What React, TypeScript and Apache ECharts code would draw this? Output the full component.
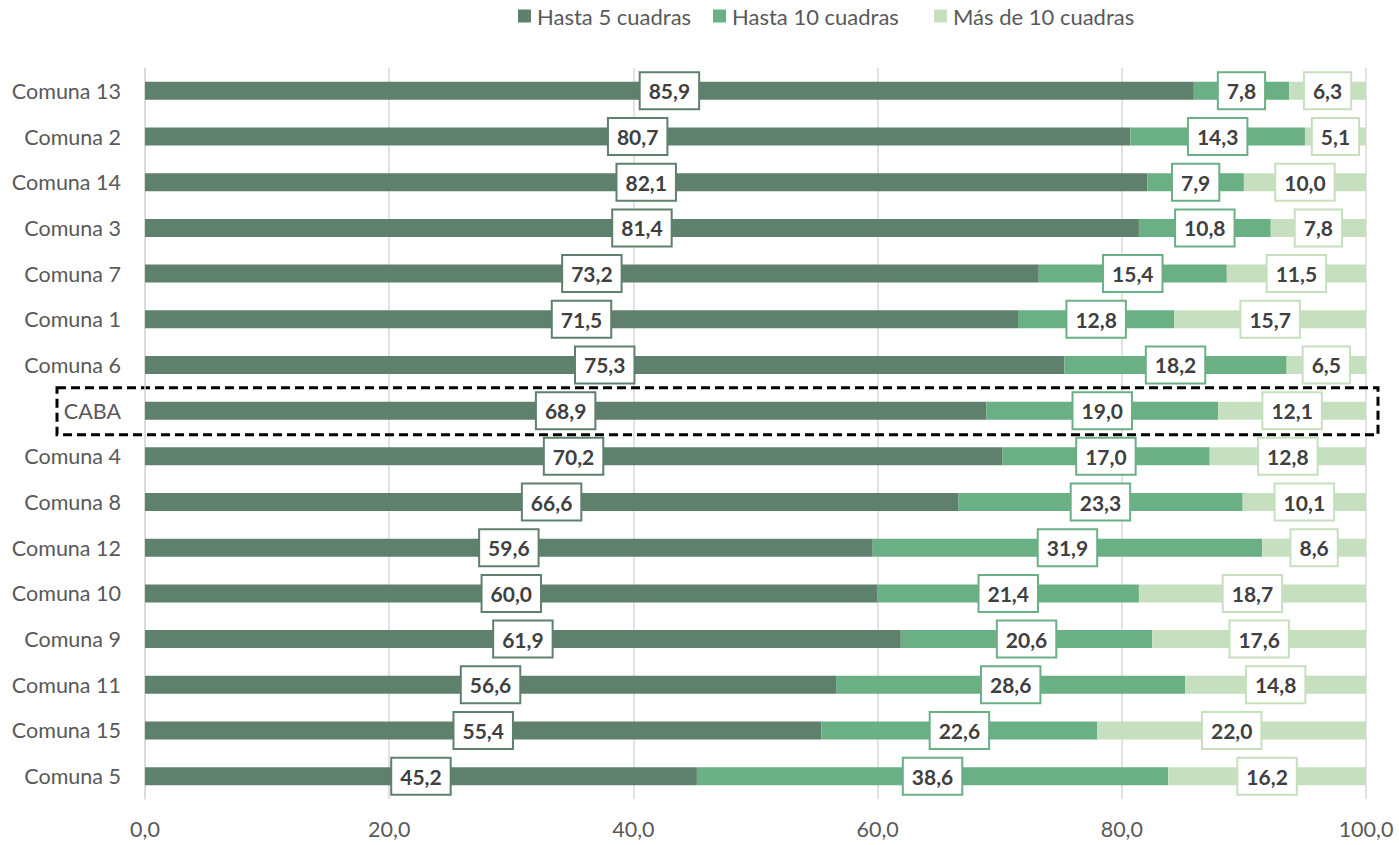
import React, { useEffect, useRef } from "react";
import * as echarts from "echarts";

const categories = [
  "Comuna 13", "Comuna 2", "Comuna 14", "Comuna 3", "Comuna 7", "Comuna 1", "Comuna 6", "CABA",
  "Comuna 4", "Comuna 8", "Comuna 12", "Comuna 10", "Comuna 9", "Comuna 11", "Comuna 15", "Comuna 5",
];
const hasta5 = [85.9, 80.7, 82.1, 81.4, 73.2, 71.5, 75.3, 68.9, 70.2, 66.6, 59.6, 60.0, 61.9, 56.6, 55.4, 45.2];
const hasta10 = [7.8, 14.3, 7.9, 10.8, 15.4, 12.8, 18.2, 19.0, 17.0, 23.3, 31.9, 21.4, 20.6, 28.6, 22.6, 38.6];
const mas10 = [6.3, 5.1, 10.0, 7.8, 11.5, 15.7, 6.5, 12.1, 12.8, 10.1, 8.6, 18.7, 17.6, 14.8, 22.0, 16.2];
const seriesNames = ["Hasta 5 cuadras", "Hasta 10 cuadras", "Más de 10 cuadras"];
const xTicks = [0, 20, 40, 60, 80, 100];
const highlighted = "CABA";

const colors = ["#5E806C", "#6BAF84", "#C6E0BF"];
const legendLefts = [518, 713, 934];
const FONT = "Lato, 'Open Sans', sans-serif";
const fmt = (v: number) => v.toFixed(1).replace(".", ",");

export default function App() {
  const ref = useRef<HTMLDivElement>(null);
  useEffect(() => {
    document.body.style.margin = "0";
    if (!ref.current) return;
    const chart = echarts.init(ref.current, null, { renderer: "svg" });
    const data = [hasta5, hasta10, mas10];
    chart.setOption({
      animation: false,
      textStyle: { fontFamily: FONT },
      legend: seriesNames.map((name, i) => ({
        left: legendLefts[i],
        top: 5,
        padding: 0,
        itemWidth: 13,
        itemHeight: 13,
        icon: "rect",
        textStyle: { fontSize: 22, color: "#595959", fontFamily: FONT, padding: [0, 0, 0, 1] },
        data: [name],
      })),
      grid: { left: 145, right: 33, top: 68, bottom: 46, containLabel: false },
      xAxis: {
        type: "value",
        min: xTicks[0],
        max: xTicks[xTicks.length - 1],
        interval: xTicks[1] - xTicks[0],
        axisLine: { show: false },
        axisTick: { show: false },
        splitLine: { lineStyle: { color: "#D9D9D9", width: 1.5 } },
        axisLabel: { formatter: (v: number) => fmt(v), fontSize: 21.5, color: "#595959", margin: 19, fontFamily: FONT },
      },
      yAxis: {
        type: "category",
        inverse: true,
        data: categories,
        axisLine: { show: true, lineStyle: { color: "#D9D9D9", width: 1.5 } },
        axisTick: { show: false },
        axisLabel: { fontSize: 21.5, color: "#595959", margin: 24, fontFamily: FONT },
      },
      series: seriesNames.map((name, i) => ({
        name,
        type: "bar",
        stack: "total",
        barWidth: 18,
        data: data[i],
        itemStyle: { color: colors[i] },
        label: {
          show: true,
          position: "inside",
          formatter: (p: any) => fmt(p.value),
          backgroundColor: "#FFFFFF",
          borderColor: colors[i],
          borderWidth: 2,
          padding: [8, 8, 6, 8],
          fontSize: 21,
          fontWeight: "bold",
          color: "#404040",
          fontFamily: FONT,
        },
      })),
    });
    const cy = chart.convertToPixel({ yAxisIndex: 0 }, highlighted) as number;
    chart.setOption({
      graphic: [
        {
          type: "rect",
          shape: { x: 57, y: cy - 23, width: 1321, height: 47 },
          style: { fill: "none", stroke: "#000", lineWidth: 3, lineDash: [9, 5] },
          silent: true,
        },
      ],
    });
    return () => chart.dispose();
  }, []);
  return <div ref={ref} style={{ width: 1399, height: 845 }} />;
}
